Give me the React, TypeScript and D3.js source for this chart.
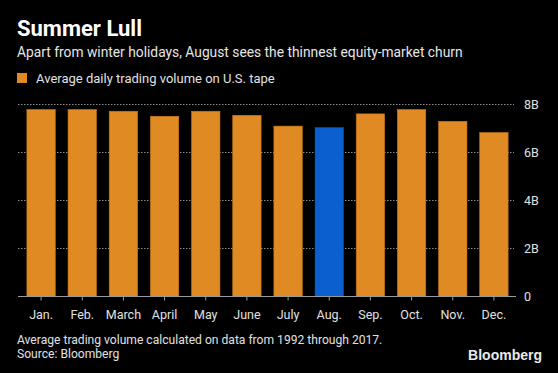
import React from 'react'
import * as d3 from 'd3'

const months = ['Jan.', 'Feb.', 'March', 'April', 'May', 'June', 'July', 'Aug.', 'Sep.', 'Oct.', 'Nov.', 'Dec.']
// average daily trading volume, billions of shares
const volume = [7.79, 7.79, 7.72, 7.51, 7.72, 7.55, 7.1, 7.04, 7.61, 7.79, 7.3, 6.83]
const highlight = 'Aug.'
const yTicks = [0, 2, 4, 6, 8]
const yTickLabels = ['0', '2B', '4B', '6B', '8B']

const W = 558
const H = 373
const FONT = 'Roboto, "Liberation Sans", sans-serif'

const orange = '#e08a23'
const blue = '#0b5fcf'

const App = () => {
  const x = d3.scaleBand<string>()
    .domain(months)
    .range([20.5, 514.5])
    .paddingInner(0.31)
    .paddingOuter(0.155)

  const y = d3.scaleLinear()
    .domain([0, 8])
    .range([296.5, 104.5])

  return (
    <svg width={W} height={H} style={{ position: 'absolute', left: 0, top: 0, background: '#000' }}
      fontFamily={FONT}>
      <rect width={W} height={H} fill="#000" />

      <text x={17} y={36} fill="#fff" fontSize={22} fontWeight="bold">Summer Lull</text>
      <text x={17} y={57} fill="#e6e6e6" fontSize={13.8}>
        Apart from winter holidays, August sees the thinnest equity-market churn
      </text>
      <rect x={17} y={73} width={10} height={10} fill={orange} />
      <text x={36} y={82.5} fill="#e0e0e0" fontSize={13}>Average daily trading volume on U.S. tape</text>

      {/* gridlines */}
      {yTicks.filter(t => t > 0).map(t => (
        <line key={t} x1={18} x2={514} y1={y(t)} y2={y(t)}
          stroke="#8a8a8a" strokeWidth={1} strokeDasharray="1.5,1.5" />
      ))}

      {/* bars */}
      {months.map((m, i) => (
        <rect key={m} x={x(m)} y={y(volume[i])} width={x.bandwidth()}
          height={y(0) - y(volume[i])}
          fill={m === highlight ? blue : orange}
          stroke={m === highlight ? '#0a52b0' : '#c2741a'} strokeWidth={0.6} />
      ))}

      {/* baseline and ticks */}
      <line x1={18} x2={516} y1={y(0)} y2={y(0)} stroke="#9a9a9a" strokeWidth={1.2} />
      {months.map(m => (
        <line key={m} x1={x(m)! + x.bandwidth() / 2} x2={x(m)! + x.bandwidth() / 2}
          y1={y(0)} y2={y(0) + 4} stroke="#9a9a9a" strokeWidth={1} />
      ))}
      {months.map(m => (
        <text key={m} x={x(m)! + x.bandwidth() / 2} y={318.5} fill="#e0e0e0" fontSize={12.5}
          textAnchor="middle">{m}</text>
      ))}

      {/* y axis labels on the right */}
      {yTicks.map((t, i) => (
        <text key={t} x={524} y={y(t)} dy="0.35em" fill="#e0e0e0" fontSize={12.5}>{yTickLabels[i]}</text>
      ))}

      <text x={17} y={344} fill="#e0e0e0" fontSize={12.1}>
        Average trading volume calculated on data from 1992 through 2017.
      </text>
      <text x={17} y={358} fill="#e0e0e0" fontSize={12.1}>Source: Bloomberg</text>
      <text x={542} y={360} fill="#eaeaea" fontSize={14} fontWeight="bold" textAnchor="end"
        fontFamily='"Liberation Sans", Arial, sans-serif'>Bloomberg</text>
    </svg>
  )
}

export default App
